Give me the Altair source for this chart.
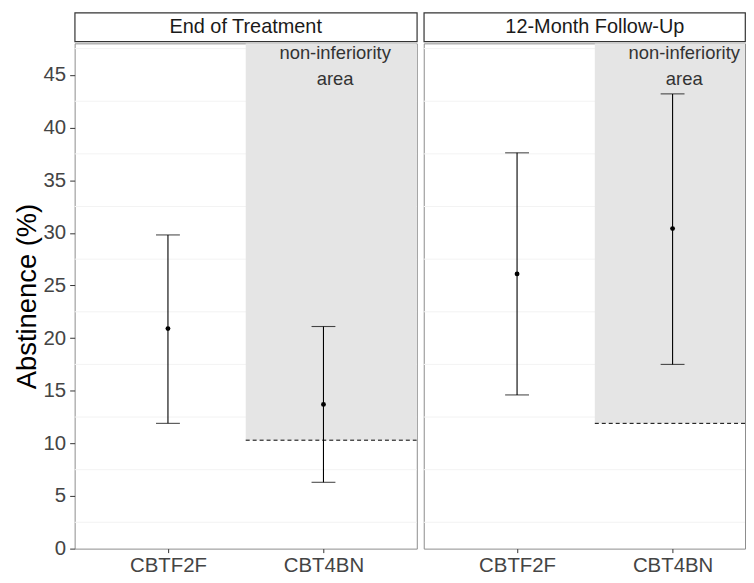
import altair as alt
import pandas as pd

# ---- data ----
phases = ["End of Treatment", "12-Month Follow-Up"]
groups = ["CBTF2F", "CBT4BN"]
est_eot = [20.9, 13.7]
lo_eot = [11.9, 6.3]
hi_eot = [29.8, 21.1]
est_fu = [26.1, 30.4]
lo_fu = [14.6, 17.5]
hi_fu = [37.6, 43.2]
margin_line = [10.3, 11.9]   # non-inferiority threshold per phase
y_ticks = [0, 5, 10, 15, 20, 25, 30, 35, 40, 45]
minor_grid = [2.5, 7.5, 12.5, 17.5, 22.5, 27.5, 32.5, 37.5, 42.5, 47.5]
annot_text = ["non-inferiority", "area"]

FONT = "Liberation Sans"
Y_MAX = 48
PANEL_H = 508
STRIP_H = 29
W_LEFT = 344
W_RIGHT = 323
X_MIN, X_MAX = 0.4, 2.6
UNIT = W_LEFT / (X_MAX - X_MIN)
X_MAX_RIGHT = X_MIN + W_RIGHT / UNIT

label_expr = "[" + ",".join(f"'{g}'" for g in groups) + "][datum.value-1]"


def panel(phase_idx, est, lo, hi, width, xmax, show_y):
    df = pd.DataFrame({
        "group": groups,
        "pos": [i + 1 for i in range(len(groups))],
        "est": est, "lo": lo, "hi": hi,
    })
    x_scale = alt.Scale(domain=[X_MIN, xmax], nice=False, zero=False)
    y_scale = alt.Scale(domain=[0, Y_MAX], nice=False, zero=True)
    x_axis = alt.Axis(values=[1, 2], labelExpr=label_expr, title=None, grid=False,
                      domain=False, tickColor="#333333", tickSize=4,
                      labelFontSize=20.5, labelColor="#444444", labelPadding=3,
                      labelFont=FONT)
    if show_y:
        y_axis = alt.Axis(values=y_ticks, title="Abstinence (%)", grid=False,
                          domain=False, tickColor="#333333", tickSize=5,
                          labelFontSize=20.5, labelColor="#444444", labelPadding=4,
                          titleFontSize=27.5, titleColor="black", titleFontWeight="normal",
                          titlePadding=2, labelFont=FONT, titleFont=FONT)
    else:
        y_axis = None

    grid = alt.Chart(pd.DataFrame({"g": minor_grid})).mark_rule(
        color="#f3f3f3", strokeWidth=1
    ).encode(
        y=alt.Y("g:Q", scale=y_scale, axis=y_axis),
        x=alt.value(0), x2=alt.value(width),
    )

    zone_df = pd.DataFrame({"x1": [1.5], "x2": [X_MAX], "y1": [margin_line[phase_idx]], "y2": [Y_MAX]})
    zone = alt.Chart(zone_df).mark_rect(color="#e5e5e5", clip=True).encode(
        x=alt.X("x1:Q", scale=x_scale, axis=x_axis), x2="x2:Q",
        y=alt.Y("y1:Q", scale=y_scale), y2="y2:Q",
    )
    dash = alt.Chart(zone_df).mark_rule(color="black", strokeDash=[4, 3], strokeWidth=1, clip=True).encode(
        x=alt.X("x1:Q", scale=x_scale), x2="x2:Q",
        y=alt.Y("y1:Q", scale=y_scale),
    )

    bars = alt.Chart(df).mark_rule(color="black", strokeWidth=1.1).encode(
        x=alt.X("pos:Q", scale=x_scale), y=alt.Y("lo:Q", scale=y_scale), y2="hi:Q",
    )
    cap_lo = alt.Chart(df).mark_tick(color="black", orient="horizontal", size=24, thickness=1.1).encode(
        x=alt.X("pos:Q", scale=x_scale), y=alt.Y("lo:Q", scale=y_scale),
    )
    cap_hi = alt.Chart(df).mark_tick(color="black", orient="horizontal", size=24, thickness=1.1).encode(
        x=alt.X("pos:Q", scale=x_scale), y=alt.Y("hi:Q", scale=y_scale),
    )
    pts = alt.Chart(df).mark_circle(color="black", size=24, opacity=1).encode(
        x=alt.X("pos:Q", scale=x_scale), y=alt.Y("est:Q", scale=y_scale),
    )
    annot = alt.Chart(pd.DataFrame({"t": [annot_text], "x": [2.075], "y": [47.05]})).mark_text(
        font=FONT, fontSize=18.5, color="#333333", lineHeight=26, baseline="middle", align="center"
    ).encode(
        x=alt.X("x:Q", scale=x_scale), y=alt.Y("y:Q", scale=y_scale), text="t",
    )

    body = alt.layer(grid, zone, dash, bars, cap_lo, cap_hi, pts, annot).properties(
        width=width, height=PANEL_H,
        view=alt.ViewBackground(stroke="#8c8c8c", strokeWidth=1),
    )

    strip = alt.Chart(pd.DataFrame({"phase": [phases[phase_idx]]})).mark_text(
        font=FONT, fontSize=20, color="#1a1a1a", baseline="middle", align="center"
    ).encode(
        text="phase:N", x=alt.value(W_LEFT / 2), y=alt.value(STRIP_H / 2),
    ).properties(
        width=width, height=STRIP_H,
        view=alt.ViewBackground(stroke="#333333", strokeWidth=1.2),
    )
    return alt.vconcat(strip, body, spacing=0)


left = panel(0, est_eot, lo_eot, hi_eot, W_LEFT, X_MAX, True)
right = panel(1, est_fu, lo_fu, hi_fu, W_RIGHT, X_MAX_RIGHT, False)

chart = alt.hconcat(left, right, spacing=5).properties(
    padding={"left": 4, "top": 2, "right": 0, "bottom": 0}
).configure(font=FONT).configure_view(stroke="#8c8c8c")

chart.save("out.html", embed_options={"renderer": "svg", "actions": False})
